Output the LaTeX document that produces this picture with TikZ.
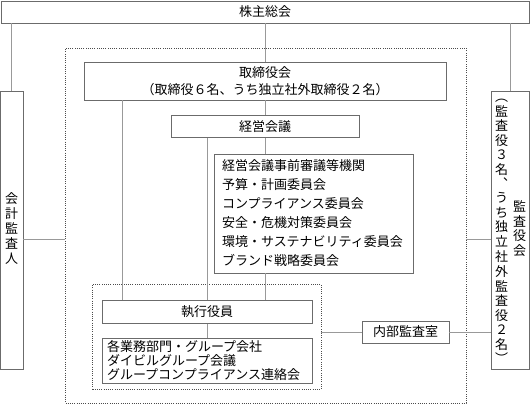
\documentclass[tikz,border=0pt]{standalone}
\usepackage{fontspec}
\setmainfont{Noto Sans CJK JP}

\definecolor{boxline}{gray}{0.42}
\definecolor{linkline}{gray}{0.6}
\definecolor{dotline}{gray}{0.3}

\newcommand{\tate}[1]{\begin{tabular}{@{}c@{}}#1\end{tabular}}

\tikzset{
  orgbox/.style={draw=boxline, line width=0.8pt, inner sep=0pt, font=\fontsize{13}{17}\selectfont},
  groupbox/.style={draw=dotline, line width=0.8pt, dash pattern=on 0.8pt off 1.4pt, inner sep=0pt},
  link/.style={draw=linkline, line width=0.8pt},
}

\begin{document}
\begin{tikzpicture}[x=1pt, y=-1pt]
    \useasboundingbox (0,0) rectangle (530,404); % page size
    \node[groupbox, minimum width=400.5pt, minimum height=355pt] (governance) at (265.75,225.5) {};
    \node[groupbox, minimum width=228.5pt, minimum height=105pt] (execution) at (206.75,336.5) {};

    \node[orgbox, minimum width=528pt, minimum height=22pt] (kabunushi) at (265,12) {株主総会};
    \node[orgbox, minimum width=22.5pt, minimum height=278pt, font=\fontsize{13}{13.5}\selectfont]
        (kaikei) at (11.75,230) {\tate{会\\計\\監\\査\\人}};
    \node[orgbox, minimum width=37.5pt, minimum height=278pt, font=\fontsize{13}{13}\selectfont]
        (kansa) at (510.5,230)
        {\tate{︵\\監\\査\\役\\３\\名\\︑\\う\\ち\\独\\立\\社\\外\\監\\査\\役\\２\\名\\︶}\hspace{5pt}\tate{監\\査\\役\\会}\hspace{5pt}};
    \node[orgbox, minimum width=362pt, minimum height=38pt, align=center] (torishimari) at (265,81)
        {取締役会\\（取締役６名、うち独立社外取締役２名）};
    \node[orgbox, minimum width=188pt, minimum height=21.5pt] (keiei) at (265,126.5) {経営会議};
    \node[orgbox, minimum width=199pt, minimum height=119pt, text width=183pt, inner xsep=8pt,
        align=left, font=\fontsize{13}{19}\selectfont] (shingi) at (313.5,213.5)
        {経営会議事前審議等機関\\予算・計画委員会\\コンプライアンス委員会\\安全・危機対策委員会\\環境・サステナビリティ委員会\\ブランド戦略委員会};
    \node[orgbox, minimum width=210pt, minimum height=22.5pt] (shikkou) at (207,312) {執行役員};
    \node[orgbox, minimum width=210pt, minimum height=45.5pt, text width=200pt, inner xsep=5pt,
        align=left, font=\fontsize{13}{14}\selectfont] (bumon) at (207,361)
        {各業務部門・グループ会社\\ダイビルグループ会議\\グループコンプライアンス連絡会};
    \node[orgbox, minimum width=87pt, minimum height=22pt] (naibu) at (405.5,332) {内部監査室};

    \coordinate (audity) at (0,239);
    \coordinate (boardx) at (122,0);

    \draw[link] (kabunushi) -- (torishimari);
    \draw[link] (kabunushi.south -| kaikei) -- (kaikei);
    \draw[link] (kabunushi.south -| kansa) -- (kansa);
    \draw[link] (torishimari) -- (keiei);
    \draw[link] (keiei) -- (keiei |- shingi.north);
    \draw[link] (keiei.south -| shikkou) -- (shikkou);
    \draw[link] (torishimari.south -| boardx) -- (shikkou.north -| boardx);
    \draw[link] (shingi.south -| keiei) -- (shikkou.north -| keiei);
    \draw[link] (shikkou) -- (bumon);
    \draw[link] (kaikei.east |- audity) -- (governance.west |- audity);
    \draw[link] (governance.east |- audity) -- (kansa.west |- audity);
    \draw[link] (execution.east |- naibu) -- (naibu);
    \draw[link] (naibu) -- (naibu -| kansa.west);
\end{tikzpicture}
\end{document}
